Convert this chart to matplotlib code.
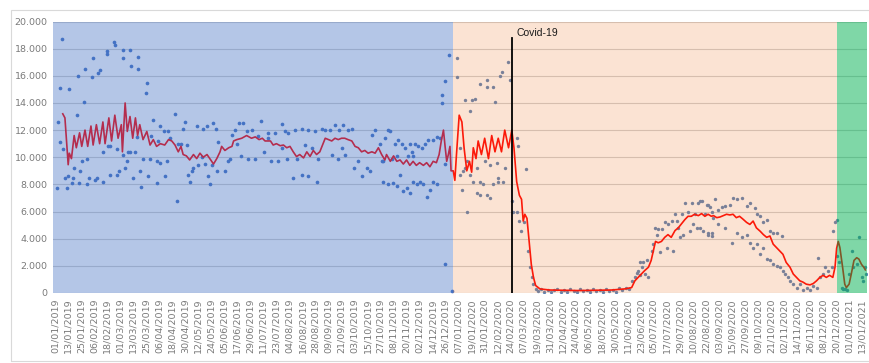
import matplotlib
matplotlib.use("Agg")
import matplotlib.pyplot as plt
from matplotlib.patches import Rectangle
from matplotlib.ticker import FuncFormatter

# Tick labels along the category axis (one every 12 days).
tick_labels = [
    "01/01/2019", "13/01/2019", "25/01/2019", "06/02/2019", "18/02/2019", "01/03/2019",
    "13/03/2019", "25/03/2019", "06/04/2019", "18/04/2019", "30/04/2019", "12/05/2019",
    "24/05/2019", "05/06/2019", "17/06/2019", "29/06/2019", "11/07/2019", "23/07/2019",
    "04/08/2019", "16/08/2019", "28/08/2019", "09/09/2019", "21/09/2019", "03/10/2019",
    "15/10/2019", "27/10/2019", "08/11/2019", "20/11/2019", "02/12/2019", "14/12/2019",
    "26/12/2019", "07/01/2020", "19/01/2020", "31/01/2020", "12/02/2020", "24/02/2020",
    "07/03/2020", "19/03/2020", "31/03/2020", "12/04/2020", "24/04/2020", "06/05/2020",
    "18/05/2020", "30/05/2020", "11/06/2020", "23/06/2020", "05/07/2020", "17/07/2020",
    "29/07/2020", "10/08/2020", "22/08/2020", "03/09/2020", "15/09/2020", "27/09/2020",
    "09/10/2020", "21/10/2020", "02/11/2020", "14/11/2020", "26/11/2020", "08/12/2020",
    "20/12/2020", "01/01/2021", "13/01/2021",
]

# Red trend line: (day index, value in thousands)
trend = [
    (7, 13.2), (9, 12.9), (12, 9.45), (13, 10.3), (15, 9.9), (17.5, 11.6), (19.5, 10.7),
    (22.5, 11.8), (24.5, 10.8), (27.5, 12.0), (30, 10.8), (33, 12.3), (35, 10.9), (38, 12.4),
    (41, 11.0), (44, 12.6), (46, 11.0), (49.5, 12.9), (52, 11.2), (55, 13.1), (58, 11.4),
    (61, 12.4), (62, 10.4), (64.5, 14.0), (66.5, 11.9), (69, 13.0), (71.5, 11.4), (74, 12.9),
    (76, 11.6), (78, 12.4), (81, 11.3), (84.5, 11.9), (87.5, 10.9), (90.5, 11.3), (93.5, 10.8),
    (97, 11.0), (101, 10.9), (104.5, 11.3), (107.5, 11.2), (110.5, 10.9), (113.5, 10.4),
    (116, 10.8), (118, 10.2), (121, 10.1), (124, 9.8), (127.5, 10.2), (130.5, 9.9), (133.5, 10.3),
    (136.5, 10.0), (140, 10.2), (143, 9.85), (146, 9.5), (149, 9.9), (152, 10.4),
    (153.5, 10.8), (156.5, 10.5), (160, 10.7), (163, 10.8), (164.5, 11.2), (167.5, 11.3),
    (172, 11.4), (176.5, 11.6), (181, 11.4), (184.5, 11.5), (188, 11.3), (191, 11.4),
    (193.5, 11.2), (198.5, 11.2), (201, 10.9), (204, 11.0), (207.5, 10.85), (210.5, 10.9),
    (213.5, 10.7), (216.5, 10.8), (219.5, 10.4), (222.5, 10.05), (225.5, 10.2), (229, 9.95),
    (232, 10.4), (235, 10.06), (238, 10.5), (241, 10.2), (244, 10.4), (247, 11.0), (249, 11.4),
    (252, 11.3), (255, 11.2), (258, 11.4), (261, 11.3), (264, 11.4), (267, 11.4), (270, 11.3),
    (273.5, 11.2), (276.5, 10.8), (279.5, 10.7), (282.5, 10.4), (285.5, 10.5), (288.5, 10.3),
    (292, 10.4), (295, 10.3), (298, 10.7), (301, 10.2), (304, 9.8),
    (305.5, 10.2), (309, 9.7), (312, 10.1), (315, 9.7), (318, 9.8), (321, 9.5), (324, 9.8),
    (327, 9.4), (330, 9.7), (333, 9.4), (336, 9.6), (339.5, 9.4), (342.5, 9.6), (345.5, 9.3),
    (348.5, 9.7), (351.5, 9.6), (354, 10.2), (356, 11.2), (358, 12.0), (359.5, 10.8),
    (361, 9.7), (362.5, 10.2), (364, 10.8), (365, 9.0), (367, 9.0), (368.5, 8.3), (370, 10.2),
    (372.5, 13.1), (375, 12.6), (377, 10.7), (379.5, 9.0), (382, 9.7), (384, 8.9), (385.5, 10.7),
    (388, 9.9), (390, 11.2), (393, 10.2), (396, 11.4), (399.5, 9.9), (402.5, 11.6),
    (405.5, 10.4), (408.5, 11.4), (411.5, 10.4), (414.5, 12.0), (418, 10.7), (421, 12.0),
    (423, 10.7), (425.5, 8.2), (428, 7.2), (430, 6.9), (431.5, 5.3), (433, 5.8), (435, 5.5),
    (437, 3.8), (439, 2.1), (441, 1.15), (443, 0.55), (447, 0.3), (456, 0.22),
    (470, 0.2), (482, 0.18), (495, 0.2), (513, 0.22), (525, 0.3), (531.5, 0.4), (534.5, 0.9),
    (537.5, 1.15), (540.5, 1.4), (543.5, 1.65), (547, 1.9), (549.5, 2.4), (551.5, 3.1),
    (553.5, 3.8), (556, 3.7), (559, 3.8), (562, 4.1), (565, 4.3), (568, 4.1), (571.5, 4.6),
    (574.5, 4.8), (577.5, 5.1), (580.5, 5.4), (583.5, 5.65), (586.5, 5.65), (589.5, 5.8),
    (593, 5.7), (596, 5.85), (599, 5.65), (602, 5.8), (605, 5.65),
    (607, 5.7), (610, 5.55), (613, 5.6), (616, 5.7), (619, 5.8), (622, 5.75), (625, 5.8),
    (628, 5.55), (631, 5.65), (634, 5.45), (637.5, 5.2), (640.5, 5.05), (643.5, 5.3),
    (646.5, 4.8), (650, 4.55), (653, 4.3), (656, 4.1), (659, 4.2), (662, 3.6), (665, 3.35),
    (668, 3.1), (671, 2.85), (674, 2.25), (677.5, 1.9), (680.5, 1.4), (683.5, 1.15),
    (686.5, 0.9), (689.5, 0.8), (692.5, 0.65), (696, 0.6), (699, 0.7), (702, 0.9), (705, 1.15),
    (708, 1.3), (711, 1.15), (714, 1.3), (717, 1.15), (719, 1.9), (720.5, 3.3), (722, 3.8),
    (723.5, 3.35), (726, 1.9), (728, 0.65), (729.5, 0.4), (732, 0.65), (734, 1.4), (736.5, 2.4),
    (739, 2.6), (741, 2.5), (743.5, 2.1), (745.5, 1.9), (747, 1.7),
]

# Daily scatter points: (day index, value in thousands)
dots_early_2019 = [
    (6.1, 18.7), (4.6, 15.1), (13.2, 15.0), (2.2, 12.6), (4.0, 11.1), (7.1, 10.6), (1.5, 7.7),
    (10.8, 7.7), (9.2, 8.5), (11.4, 8.6), (15.4, 8.1), (16.3, 8.5), (20, 13.1), (17.5, 9.2),
    (23, 9.0), (22.4, 8.1), (26.7, 14.1), (27.6, 16.5), (20.6, 16.0), (33.8, 15.9), (34.7, 17.3),
    (24.6, 9.7), (29.8, 8.0), (29.8, 9.9), (31.6, 8.5), (36.9, 8.35), (38.4, 8.5), (39.9, 16.2),
    (41.5, 16.4), (44.5, 8.2), (47.6, 17.6), (48.2, 17.8), (54.4, 18.5), (55.3, 18.3),
    (62.4, 17.9), (62.4, 17.3), (69.1, 17.9), (69.7, 16.7), (76.8, 17.4), (76.8, 16.5),
    (84.5, 15.5), (83.9, 14.7), (49.1, 10.8), (50.7, 8.7), (56.8, 8.7), (58.4, 9.0), (63, 10.2),
    (64.5, 9.2), (66, 9.7), (67.6, 10.4), (72.2, 8.5), (73.7, 10.4), (79, 7.8), (78.3, 9.0),
    (81.4, 9.9), (86, 8.6), (87.6, 9.9), (90.6, 12.75), (93.7, 8.1), (96.8, 12.3), (93.7, 9.7),
    (96.8, 9.6), (101.4, 8.6), (104.4, 11.9), (102.9, 9.7), (110.6, 13.2), (112.1, 6.8),
    (113.7, 11.0), (118.3, 12.1), (121.3, 10.9), (122.9, 8.7), (124.4, 8.2), (126, 9.0),
    (127.5, 9.2), (130.5, 12.3), (132.1, 9.4), (136.7, 12.1), (139.8, 12.3), (141.3, 8.6),
    (142.8, 8.0), (145.9, 12.5), (148.4, 12.1), (149, 9.0), (150.5, 11.1), (44, 10.4),
    (50.5, 10.8), (56.8, 10.6), (69, 10.4), (75, 11.5), (88, 11.6), (95, 11.2), (100, 11.9),
    (106, 11.4), (116, 11.0), (120, 12.6), (135, 10.0), (138, 9.5), (145, 9.4),
]
dots_mid_2019 = [
    (156.7, 9.0), (159.8, 9.7), (161.3, 9.9), (162.8, 11.65), (165.9, 12.0), (167.4, 11.0),
    (169.6, 12.5), (173.6, 12.5), (171.4, 10.1), (178.2, 9.9), (184.3, 9.9), (189.9, 12.7),
    (193, 10.4), (196.6, 11.8), (199.1, 9.7), (202.8, 11.8), (205.8, 9.7), (208.9, 12.45),
    (212, 11.9), (215, 11.8), (221.2, 12.0), (227.3, 12.1), (233.5, 12.0), (239.6, 11.9),
    (242.7, 9.9), (245.8, 12.1), (248.8, 12.0), (253.5, 12.0), (258.1, 12.4), (261.8, 12.0),
    (265.7, 12.4), (270.4, 12.0), (273.4, 12.1), (261.1, 9.9), (219.7, 8.5), (227.3, 8.7),
    (233.5, 8.6), (241.2, 8.2), (255, 10.2), (264.2, 10.7), (267.3, 10.2), (275.9, 9.2),
    (282.6, 8.6), (287.2, 9.2), (290.3, 9.0), (279.6, 9.7), (291.9, 11.65), (294.9, 12.0),
    (299.5, 11.0), (302.6, 8.2), (302.6, 9.7), (208.9, 10.7), (213.5, 9.9), (222.7, 9.9),
    (230.4, 10.9), (236.6, 10.7), (196.6, 11.4), (187.4, 11.6), (181.3, 12.0), (176.7, 11.9),
]
dots_late_2019 = [
    (307.2, 12.0), (308.7, 11.9), (304.1, 11.4), (313.3, 11.0), (316.4, 11.3), (319.5, 11.0),
    (322.5, 10.7), (327.1, 11.0), (328.7, 10.4), (331.8, 11.0), (334.8, 10.8), (337.9, 10.7),
    (341, 11.0), (344, 11.3), (348.7, 11.3), (351.7, 11.5), (354.8, 11.4), (301, 9.7),
    (310.3, 9.9), (314.9, 10.1), (325.6, 10.1), (330.2, 10.1), (307.2, 8.0), (311.8, 8.1),
    (314.9, 7.9), (317.9, 8.7), (321, 7.5), (324.1, 7.7), (327.1, 7.4), (330.2, 8.2),
    (333.3, 8.0), (336.4, 8.2), (339.4, 8.0), (342.5, 7.1), (345.6, 7.6), (348.7, 8.2),
    (351.7, 8.0), (356.3, 14.0), (356.3, 14.6), (359.4, 15.6), (363.4, 17.5), (359.4, 2.1),
    (365.5, 0.17), (359.4, 9.5),
]
dots_2020 = [
    (370.2, 17.3), (370.2, 15.9), (373.2, 10.7), (373.2, 8.7), (375.7, 9.0), (377.8, 9.2),
    (377.8, 14.2), (382.4, 13.4), (384, 14.2), (387, 14.3), (391.7, 15.4), (397.8, 15.7),
    (397.8, 15.2), (404, 15.2), (405.5, 14.1), (410.1, 16.0), (411.6, 16.3), (417.8, 17.0),
    (419.3, 15.7), (382.4, 8.7), (385.5, 8.2), (388.6, 9.2), (391.7, 8.2), (394.7, 8.0),
    (397.8, 7.25), (400.9, 7.0), (404, 8.0), (408.6, 8.2), (408.6, 8.5), (413.2, 8.2),
    (414.7, 9.2), (388.6, 7.4), (391.7, 7.25), (396.3, 9.7), (400.9, 9.45), (407, 9.6),
    (380, 6.0), (374.8, 7.6), (379.4, 9.7),
    (425.5, 11.4), (427, 10.8), (420.8, 6.8), (422.4, 6.0), (425.5, 6.0), (427.9, 5.3),
    (429.4, 4.6), (433.7, 9.1), (432, 5.2), (436.2, 3.1), (437.7, 1.9), (439.3, 1.15),
    (440.8, 0.66), (443, 0.3),
    (445, 0.12), (448, 0.3), (451, 0.1), (454, 0.25), (457, 0.08), (460, 0.2), (463, 0.3),
    (466, 0.1), (469, 0.22), (472, 0.05), (475, 0.28), (478, 0.15), (481, 0.1), (484, 0.3),
    (487, 0.12), (490, 0.2), (493, 0.08), (496, 0.3), (499, 0.15), (502, 0.22), (505, 0.1),
    (508, 0.3), (511, 0.18), (514, 0.25), (517, 0.1), (520, 0.35), (523, 0.2), (526, 0.4),
    (529, 0.3),
    (532.1, 0.9), (534.5, 1.15), (536.1, 1.5), (537.6, 1.65), (539.2, 2.25), (540.7, 1.9),
    (539.2, 1.3), (542.2, 2.25), (543.8, 1.4), (545.3, 2.4), (546.8, 1.15), (549.9, 3.1),
    (551.4, 3.6), (553, 4.8), (554.5, 4.3), (556, 4.7), (557.6, 3.0), (559.1, 4.7),
    (562.2, 5.2), (563.7, 3.35), (565.3, 5.05), (568.3, 5.3), (569.9, 3.1), (571.4, 5.8),
    (573, 5.3), (574.5, 4.8), (576, 4.1), (577.6, 5.8), (579.1, 4.3), (580.6, 6.6),
    (583.7, 6.0), (585.2, 4.6), (586.8, 6.6), (588.3, 5.1), (589.8, 5.8), (591.4, 4.8),
    (592.9, 6.65), (596, 6.75), (599, 5.8), (602.1, 6.5), (605.2, 6.0), (606.7, 5.55),
    (602.1, 4.45), (605.2, 4.2),
    (594.5, 6.8), (600.6, 6.5), (603.7, 6.3), (608.3, 6.9), (611.4, 6.15), (614.5, 6.3),
    (617.5, 6.4), (622.1, 6.5), (625.2, 7.0), (628.3, 6.9), (632.9, 7.0), (637.5, 6.4),
    (640.6, 6.65), (645.2, 6.25), (646.7, 5.8), (649.8, 5.65), (652.9, 5.2), (655.9, 5.4),
    (659, 4.6), (662.1, 4.45), (665.2, 4.45), (669.8, 4.2), (594.5, 4.8), (597.6, 4.6),
    (602.2, 4.3), (605.3, 4.45), (611.4, 5.05), (617.5, 4.8), (623.7, 3.7), (628.3, 4.45),
    (632.9, 4.1), (637.5, 4.3), (640.6, 3.7), (643.7, 3.35), (646.7, 3.6), (649.8, 2.85),
    (652.9, 3.35), (655.9, 2.5), (659, 2.4), (662.1, 2.1), (665.2, 2.0), (668.2, 1.9),
    (671.3, 1.65), (672.8, 1.4), (675.9, 1.15), (677.4, 0.9), (680.5, 0.65), (683.6, 0.4),
    (686.7, 0.65), (689.7, 0.2), (692.8, 0.4), (695.9, 0.2), (698.9, 0.55), (702, 0.4),
    (703.6, 2.6), (705.1, 1.15), (708.2, 1.4), (709.7, 1.9), (712.8, 1.65), (715.8, 1.9),
    (717.4, 4.6), (718.9, 5.2), (720.5, 5.4),
]
dots_2021 = [
    (721.1, 2.75), (722.9, 2.25), (725.1, 0.4), (726.6, 0.3), (728.1, 0.3), (729.7, 0.2),
    (732.1, 1.4), (734.3, 3.1), (735.8, 1.9), (738.9, 2.1), (741.3, 4.1), (743.5, 1.15),
    (745, 0.9), (746.6, 1.9), (747.5, 1.4),
]

# Shaded periods (day index) and the Covid-19 marker
period_edges = [-2, 367, 720.7, 748.5]
period_colors = ["#4472c4", "#ed7d31", "#00b050"]
period_alpha = [0.40, 0.21, 0.50]
covid_day = 421

dots_2019 = dots_early_2019 + dots_mid_2019 + dots_late_2019
dots_later = dots_2020 + dots_2021
trend_x = [d for d, v in trend]
trend_y = [v * 1000 for d, v in trend]

fig = plt.figure(figsize=(8.69, 3.63), dpi=100)
ax = fig.add_axes([53 / 869, 70 / 363, 814 / 869, 271.5 / 363])

ax.set_xlim(period_edges[0], period_edges[-1])
ax.set_ylim(0, 20000)

ax.yaxis.grid(True, color="#d0d0d0", linewidth=0.8, zorder=0)
ax.set_axisbelow(True)

ax.scatter([d for d, v in dots_2019], [v * 1000 for d, v in dots_2019],
           s=7, color="#4472c4", linewidths=0, zorder=2)
ax.scatter([d for d, v in dots_later], [v * 1000 for d, v in dots_later],
           s=6, color="#5a82b4", linewidths=0, zorder=2)
ax.plot(trend_x, trend_y, color="#ff0000", linewidth=1.2, zorder=3)

# Semi-transparent period overlays on top of the data
for i in range(3):
    ax.axvspan(period_edges[i], period_edges[i + 1], color=period_colors[i],
               alpha=period_alpha[i], linewidth=0, zorder=4)

ax.plot([covid_day, covid_day], [0, 18750], color="black", linewidth=1.3, zorder=5)
ax.text(covid_day + 4, 19150, "Covid-19", fontsize=7.5, color="#1a1a1a",
        family="Liberation Sans", va="center", ha="left", zorder=6)

ax.set_yticks(range(0, 20001, 2000))
ax.yaxis.set_major_formatter(FuncFormatter(lambda v, p: f"{int(v):,}".replace(",", ".")))
ax.set_xticks([12 * i for i in range(len(tick_labels))])
ax.set_xticklabels(tick_labels, rotation=90)
ax.tick_params(axis="both", length=0, labelsize=6.8, labelcolor="#7a7a7a")
ax.tick_params(axis="y", pad=4)
ax.tick_params(axis="x", pad=4)

for s in ax.spines.values():
    s.set_visible(False)

# Light chart-area border
fig.patches.append(Rectangle((11 / 869, 2 / 363), 1.0, 351 / 363, transform=fig.transFigure,
                             fill=False, edgecolor="#d9d9d9", linewidth=0.8))

fig.savefig("out.png", dpi=100)
